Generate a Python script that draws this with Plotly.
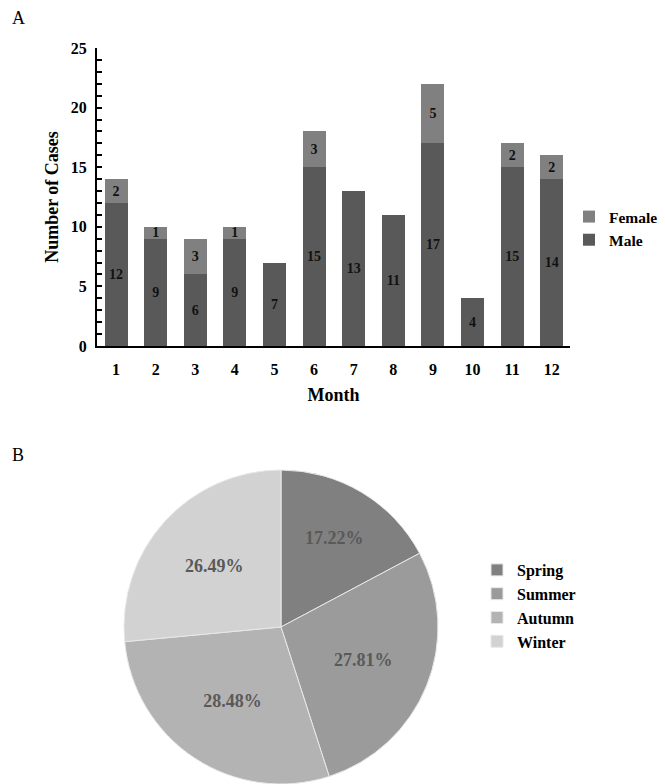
import plotly.graph_objects as go

months = [1, 2, 3, 4, 5, 6, 7, 8, 9, 10, 11, 12]
male = [12, 9, 6, 9, 7, 15, 13, 11, 17, 4, 15, 14]
female = [2, 1, 3, 1, 0, 3, 0, 0, 5, 0, 2, 2]
seasons = ["Spring", "Summer", "Autumn", "Winter"]
season_cases = [26, 42, 43, 40]

FONT = "'Liberation Serif', 'Times New Roman', 'DejaVu Serif', serif"
W, H = 665, 784


def px(x):
    return x / W


def py(y):
    return 1 - y / H


fig = go.Figure()
fig.add_trace(go.Bar(
    x=months, y=male, name="Male", marker=dict(color="#595959", line=dict(width=0)),
    text=[str(v) if v else "" for v in male], textposition="inside", insidetextanchor="middle",
    constraintext="none", textangle=0,
    textfont=dict(family=FONT, size=14, color="#111111", weight="bold"), width=0.58,
    legend="legend",
))
fig.add_trace(go.Bar(
    x=months, y=female, name="Female", marker=dict(color="#808080", line=dict(width=0)),
    text=[str(v) if v else "" for v in female], textposition="inside", insidetextanchor="middle",
    constraintext="none", textangle=0,
    textfont=dict(family=FONT, size=14, color="#111111", weight="bold"), width=0.58,
    legend="legend",
))
fig.add_trace(go.Pie(
    labels=seasons, values=season_cases, sort=False, direction="clockwise", rotation=0,
    marker=dict(colors=["#808080", "#9b9b9b", "#b3b3b3", "#d2d2d2"], line=dict(color="#e8e8e8", width=1)),
    texttemplate="%{percent:.2%}", textposition="inside", insidetextorientation="horizontal",
    textfont=dict(family=FONT, size=18, color="#595959", weight="bold"),
    domain=dict(x=[px(124), px(438)], y=[0, py(470)]),
    legend="legend2", showlegend=True,
))

fig.update_layout(
    width=W, height=H, barmode="stack", margin=dict(l=0, r=0, t=0, b=0, autoexpand=False),
    plot_bgcolor="white", paper_bgcolor="white",
    font=dict(family=FONT, color="#000000"),
    xaxis=dict(domain=[px(97), px(570)], range=[0.52, 12.46], tickmode="array", tickvals=months,
               showline=True, linecolor="black", linewidth=2, ticks="", ticklabelstandoff=8,
               tickfont=dict(family=FONT, size=16, weight="bold"), showgrid=False, zeroline=False,
               title=dict(text="Month", font=dict(family=FONT, size=18, weight="bold"), standoff=11)),
    yaxis=dict(domain=[py(346), py(48)], range=[0, 25], dtick=5,
               showline=True, linecolor="black", linewidth=2, ticks="inside", ticklen=5,
               tickwidth=1.5, tickcolor="black", ticklabelstandoff=5,
               minor=dict(dtick=1, ticks="inside", ticklen=5, tickwidth=1.5, tickcolor="black"),
               tickfont=dict(family=FONT, size=16, weight="bold"), showgrid=False, zeroline=False,
               title=dict(text="Number of Cases", font=dict(family=FONT, size=18, weight="bold"), standoff=7)),
    legend=dict(x=px(569), y=py(200), xanchor="left", yanchor="top", traceorder="reversed",
                font=dict(family=FONT, size=15.5, weight="bold"), itemwidth=30, tracegroupgap=0),
    legend2=dict(x=px(477), y=py(553), xanchor="left", yanchor="top",
                 font=dict(family=FONT, size=16, weight="bold"), itemwidth=30),
    annotations=[
        dict(text="A", x=px(10), y=py(18), xref="paper", yref="paper", showarrow=False,
             xanchor="left", yanchor="middle", font=dict(size=18, family=FONT)),
        dict(text="B", x=px(10), y=py(455), xref="paper", yref="paper", showarrow=False,
             xanchor="left", yanchor="middle", font=dict(size=18, family=FONT)),
    ],
)

fig.write_html("out.html", config={"displayModeBar": False},
               post_script="document.body.style.margin='0';")
